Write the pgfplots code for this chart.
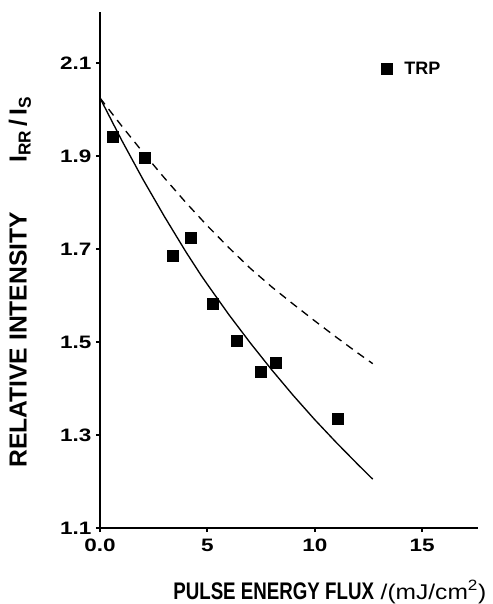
\documentclass[border=0pt]{standalone}
\usepackage{fontspec}
\setmainfont{Liberation Sans}
\newfontfamily\tickfont[FakeStretch=1.25]{Liberation Sans}
\newfontfamily\condfont[FakeStretch=0.78]{Liberation Sans}
\newfontfamily\widefont[FakeStretch=1.15]{Liberation Sans}
\usepackage{pgfplots}
\pgfplotsset{compat=1.18}
\begin{document}
\begin{tikzpicture}
\useasboundingbox (-75pt,-57pt) rectangle (294.75pt,396pt);
\begin{axis}[
 at={(0pt,0pt)}, anchor=south west,
 scale only axis, width=283.5pt, height=387pt,
 xmin=0, xmax=17.6, ymin=1.1, ymax=2.21,
 axis x line=bottom, axis y line=left,
 axis line style={-, line width=2.2pt},
 xtick={0,5,10,15}, xticklabels={0.0,5,10,15},
 ytick={1.1,1.3,1.5,1.7,1.9,2.1},
 y tick label style={/pgf/number format/.cd, fixed, fixed zerofill, precision=1},
 x tick label style={yshift=-2pt},
 /pgf/number format/assume math mode=true,
 tick label style={font=\tickfont\bfseries\fontsize{13.5}{15}\selectfont},
 tick style={black, line width=1.5pt},
 tick align=outside, major tick length=3pt,
 xlabel={{\condfont\bfseries\fontsize{18}{20}\selectfont PULSE ENERGY FLUX}\hspace{5pt}{\widefont\fontsize{16}{18}\selectfont /(mJ/cm\textsuperscript{2})}},
 ylabel={{\bfseries\fontsize{18.5}{20}\selectfont RELATIVE INTENSITY}\hspace{37pt}{\bfseries\fontsize{18.5}{20}\selectfont I\textsubscript{RR}\,/\,I\textsubscript{S}}},
 xlabel style={at={(axis description cs:0.608,-0.124)}, anchor=center},
 ylabel style={at={(axis description cs:-0.212,0.477)}, anchor=center},
 clip=false,
 legend style={at={(axis description cs:0.743,0.889)}, anchor=west, draw=none, fill=none, inner sep=0pt,
   font=\bfseries\fontsize{13.5}{15}\selectfont,
   /tikz/every odd column/.append style={column sep=7pt}},
 legend image code/.code={\draw[#1] plot coordinates {(4.5pt,0pt)};},
]
\addplot[forget plot, black, line width=1pt] coordinates {
(0,2.025) (1,1.935) (2,1.850) (3,1.770) (4,1.694) (4.7,1.644) (5,1.624) (6,1.559) (7,1.498)
(8,1.440) (9,1.385) (10,1.333) (11,1.284) (12,1.237) (12.7,1.205)};
\addplot[forget plot, black, line width=1pt, dash pattern=on 6pt off 4.5pt] coordinates {
(0,2.025) (1,1.9655) (2,1.908) (3,1.853) (4,1.800) (5,1.750) (6,1.703) (7,1.6585)
(8,1.6185) (9,1.5815) (10,1.5455) (11,1.5105) (12,1.4765) (12.7,1.4535)};
\addplot[only marks, mark=square*, mark size=4.2pt, black, fill=black, line width=0.6pt] coordinates {
(0.60,1.941) (2.09,1.896) (3.40,1.685) (4.23,1.724) (5.26,1.582) (6.37,1.502) (7.49,1.435) (8.19,1.455) (11.07,1.334)};
\addlegendentry{TRP}
\end{axis}
\end{tikzpicture}
\end{document}
